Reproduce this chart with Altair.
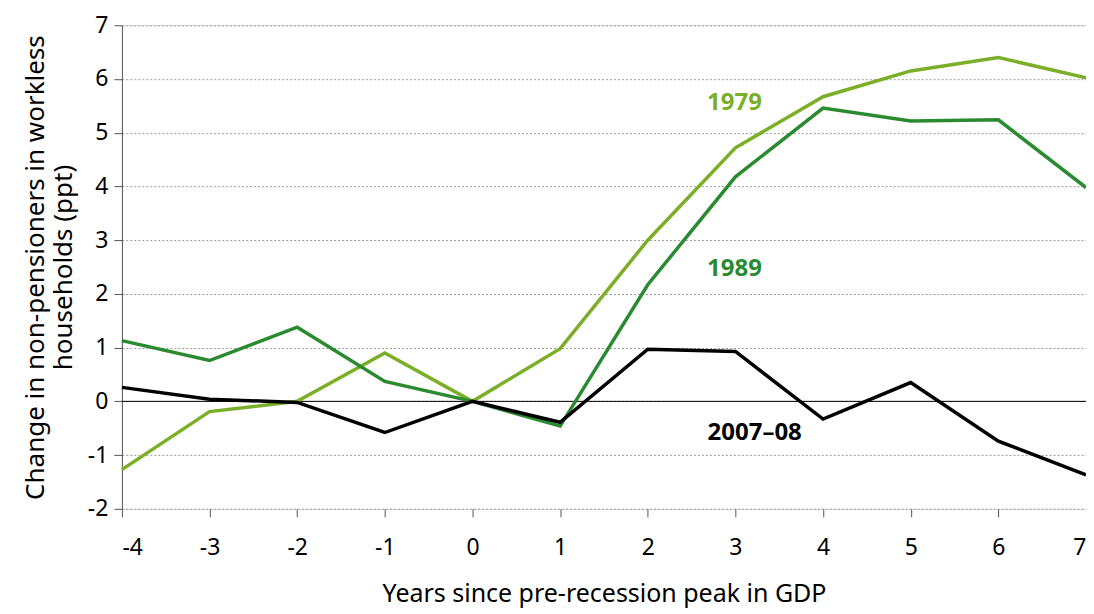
import altair as alt
import pandas as pd

years = [-4, -3, -2, -1, 0, 1, 2, 3, 4, 5, 6, 7]
s1979 = [-1.27, -0.19, 0.0, 0.9, 0.0, 0.98, 3.0, 4.72, 5.67, 6.15, 6.4, 6.02]
s1989 = [1.13, 0.76, 1.38, 0.37, 0.0, -0.46, 2.17, 4.18, 5.46, 5.22, 5.24, 3.98]
s2007 = [0.26, 0.04, -0.02, -0.58, 0.0, -0.39, 0.97, 0.93, -0.33, 0.35, -0.74, -1.37]
series_names = ["1979", "1989", "2007–08"]
series_colors = ["#7AAF27", "#2A8A30", "#000000"]

label_text = ["1979", "1989", "2007–08"]
label_x = [2.99, 2.99, 3.22]
label_y = [5.56, 2.47, -0.58]

rows = []
for name, vals in zip(series_names, [s1979, s1989, s2007]):
    for yr, v in zip(years, vals):
        rows.append({"year": yr, "value": v, "series": name})
df = pd.DataFrame(rows)
labels = pd.DataFrame({"text": label_text, "x": label_x, "y": label_y, "series": series_names})

FONT = "Noto Sans"
LBL = "replace(format(datum.value, 'd'), '\u2212', '-')"
xscale = alt.Scale(domain=[-4, 7], nice=False, zero=False)
yscale = alt.Scale(domain=[-2, 7], nice=False)
color = alt.Color("series:N", scale=alt.Scale(domain=series_names, range=series_colors), legend=None)

lines = alt.Chart(df).mark_line(strokeWidth=3.5, strokeJoin="miter").encode(
    x=alt.X("year:Q", scale=xscale,
            axis=alt.Axis(title="Years since pre-recession peak in GDP", values=years,
                          labelExpr=LBL, grid=False, domain=False, ticks=True, tickSize=8,
                          tickColor="#555555", labelPadding=20, labelFontSize=23,
                          labelColor="#000000", titleFontSize=25, titleFontWeight="normal",
                          titleColor="#000000", titlePadding=22, labelFont=FONT, titleFont=FONT)),
    y=alt.Y("value:Q", scale=yscale,
            axis=alt.Axis(title=["Change in non-pensioners in workless", "households (ppt)"],
                          values=list(range(-2, 8)), labelExpr=LBL, grid=True, gridDash=[2, 2],
                          gridColor="#999999", gridWidth=1, domain=True, domainColor="#555555",
                          ticks=True, tickSize=8, tickColor="#555555", labelPadding=6,
                          labelFontSize=23, labelColor="#000000", titleFontSize=26,
                          titleFontWeight="normal", titleColor="#000000", titlePadding=11,
                          titleLineHeight=28, labelFont=FONT, titleFont=FONT)),
    color=color,
    detail="series:N",
)

zero = alt.Chart(pd.DataFrame({"y": [0]})).mark_rule(color="#000000", strokeWidth=1).encode(
    y=alt.Y("y:Q", scale=yscale)
)

text = alt.Chart(labels).mark_text(fontSize=24, fontWeight="bold", font=FONT).encode(
    x=alt.X("x:Q", scale=xscale),
    y=alt.Y("y:Q", scale=yscale),
    text="text:N",
    color=color,
)

chart = alt.layer(zero, lines, text).properties(
    width=965, height=484,
    autosize=alt.AutoSizeParams(type="none"),
    padding={"left": 114, "top": 17, "right": 0, "bottom": 104},
).configure_view(stroke=None).configure(font=FONT)

chart.save("out.html", embed_options={"renderer": "svg", "actions": False})
